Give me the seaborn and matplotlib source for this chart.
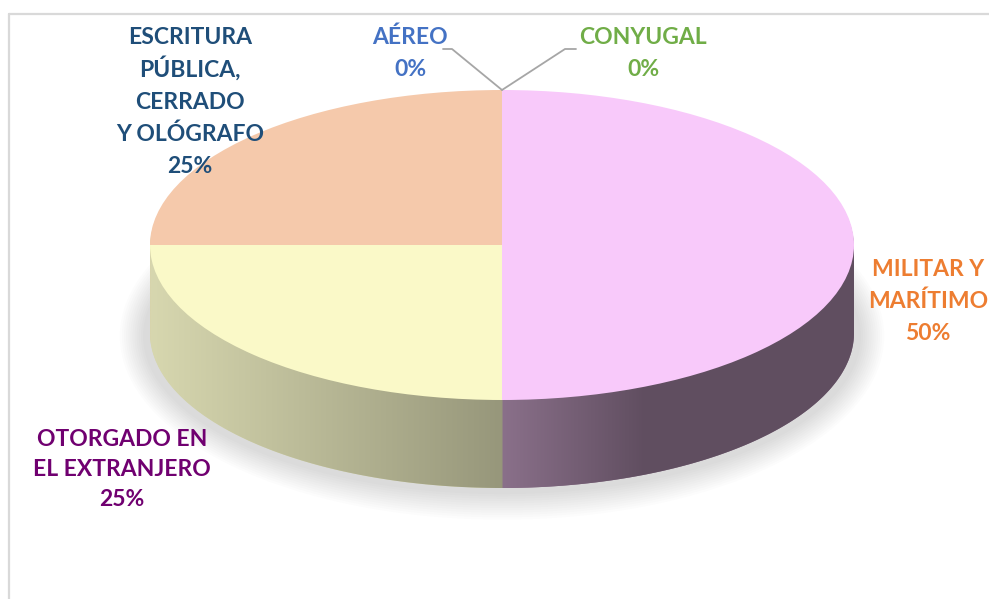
import numpy as np
import matplotlib.pyplot as plt
import seaborn as sns
from matplotlib.patches import Ellipse, Polygon
from matplotlib.lines import Line2D

# datos del grafico
categorias = ["CONYUGAL", "MILITAR Y\nMARÍTIMO", "OTORGADO EN\nEL EXTRANJERO",
              "ESCRITURA\nPÚBLICA,\nCERRADO\nY OLÓGRAFO", "AÉREO"]
porcentajes = [0, 50, 25, 25, 0]
color_cara = ["#C8E6B4", "#F8C9FA", "#FAF9C8", "#F5C9AB", "#C5D3F0"]
color_lado = [(160, 190, 140), (138, 112, 138), (215, 215, 175), (215, 212, 172), (150, 165, 200)]
rampa_lado = [1.0, 0.4, 1.0, 1.0, 1.0]   # que tan rapido se oscurece el lado
color_texto = ["#70AD47", "#ED7D31", "#700070", "#1F4E79", "#4472C4"]

sns.set_theme(style="white")
plt.rcParams['font.family'] = ['Lato', 'DejaVu Sans']

W, H = 989, 599
cx, cy = 502, 245      # centro de la elipse (px)
a, b = 352, 155        # semiejes (px)
grosor = 88 / b        # grosor del lado en unidades de datos

fig = plt.figure(figsize=(W / 100, H / 100), dpi=100)
ax = fig.add_axes([0, 0, 1, 1])

# sombra suave
for k in range(12):
    ax.add_patch(Ellipse((0.0, -grosor - 0.02), 2.04 + k * 0.012, 2.04 + k * 0.03,
                         color="black", alpha=0.012, lw=0, zorder=0))

# lado del pastel (pasteles apilados)
for k in range(40, 0, -1):
    ax.pie(porcentajes, radius=1, center=(0, -grosor * k / 40), startangle=90,
           counterclock=False, colors=[np.array(c) / 255 for c in color_lado],
           wedgeprops=dict(linewidth=0, zorder=1))

# degradado horizontal del lado, segun la porcion visible en el frente
xs = np.linspace(-1, 1, 600)
ang = np.degrees(-np.arccos(xs))                 # angulo en la parte frontal
pie_ang = (90 - ang) % 360                       # sentido horario desde las 12
lim = np.cumsum([0] + porcentajes) / sum(porcentajes) * 360
idx = np.clip(np.searchsorted(lim, pie_ang, side="right") - 1, 0, len(porcentajes) - 1)
img = np.zeros((1, len(xs), 3))
for i in range(len(porcentajes)):
    m = idx == i
    if not m.any():
        continue
    xmin = xs[m].min()
    shade = 1 - 0.3 * np.clip((xs[m] - xmin) / rampa_lado[i], 0, 1)
    img[0, m] = np.outer(shade, np.array(color_lado[i]) / 255)
t = np.linspace(0, np.pi, 200)
clip_pts = np.concatenate([
    np.column_stack([np.cos(t), np.sin(t)]),
    np.column_stack([np.cos(t + np.pi), np.sin(t + np.pi) - grosor]),
])
clip = Polygon(clip_pts, closed=True, transform=ax.transData, fc="none", ec="none")
ax.add_patch(clip)
im = ax.imshow(img, extent=(-1, 1, -1 - grosor, 0), aspect="auto", zorder=2,
               interpolation="bilinear")
im.set_clip_path(clip)

# cara superior
ax.pie(porcentajes, radius=1, center=(0, 0), startangle=90, counterclock=False,
       colors=color_cara, wedgeprops=dict(linewidth=0, zorder=3))

ax.set_aspect("auto")
ax.set_xlim(-cx / a, (W - cx) / a)
ax.set_ylim(-(H - cy) / b, cy / b)
ax.axis("off")

# etiquetas (una linea a la vez para un interlineado parejo)
pos_etiquetas = [(643, 36), (928, 268), (122, 437), (190, 36), (410, 36)]
interlineado = [32, 31.5, 30, 32.2, 32]
for nombre, p, col, (px, py), dy in zip(categorias, porcentajes, color_texto,
                                        pos_etiquetas, interlineado):
    for j, linea in enumerate(f"{nombre}\n{p}%".split("\n")):
        fig.text(px / W, 1 - (py + 8.5 + j * dy) / H, linea, color=col, fontsize=16.5,
                 fontweight="bold", ha="center", va="baseline")

# lineas guia
gris = "#A6A6A6"
for xs_l, ys_l in [([443, 452, 502], [49, 49, 90]), ([502, 565, 576], [90, 49, 49])]:
    fig.add_artist(Line2D(np.array(xs_l) / W, 1 - np.array(ys_l) / H, color=gris, lw=1.3))

# marco
fig.add_artist(Line2D([8.5 / W, 1], [1 - 14 / H, 1 - 14 / H], color="#D9D9D9", lw=1.6))
fig.add_artist(Line2D([8.5 / W, 8.5 / W], [0, 1 - 14 / H], color="#D9D9D9", lw=1.6))

fig.savefig("out.png", dpi=100)
